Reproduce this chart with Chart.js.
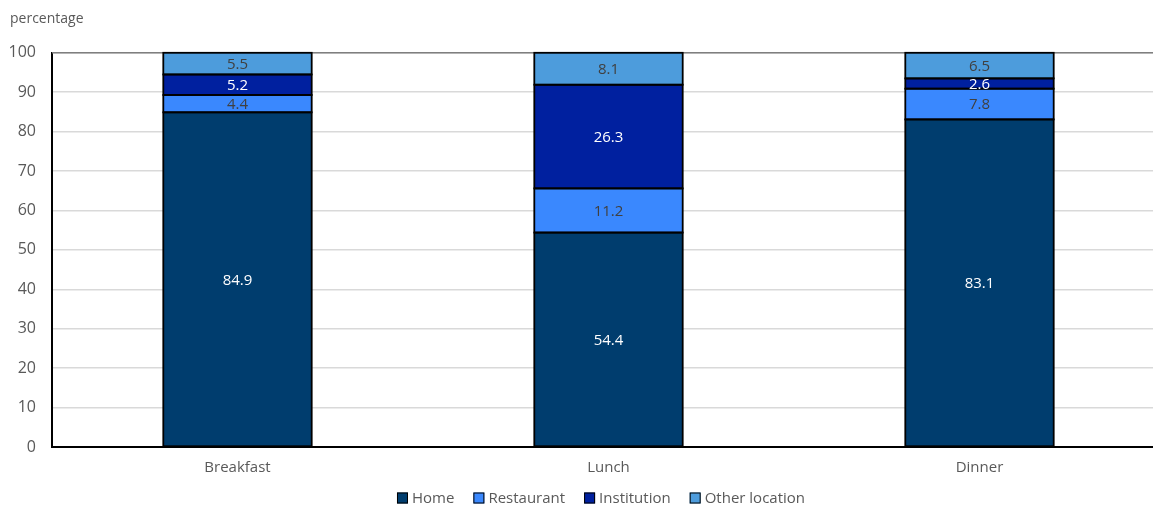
<!DOCTYPE html>
<html>
<head>
<meta charset="utf-8">
<script src="https://cdn.jsdelivr.net/npm/chart.js@4"></script>
<style>
  html, body { margin: 0; padding: 0; background: #fff; overflow: hidden; }
  #wrap { width: 1165px; height: 506px; }
</style>
</head>
<body>
<div id="wrap"><canvas id="c" width="1165" height="506"></canvas></div>
<script>
// Meal categories and share of each meal by eating location (percentage)
const meals = ['Breakfast', 'Lunch', 'Dinner'];
const home = [84.9, 54.4, 83.1];
const restaurant = [4.4, 11.2, 7.8];
const institution = [5.2, 26.3, 2.6];
const otherLocation = [5.5, 8.1, 6.5];
const yTicks = [0, 10, 20, 30, 40, 50, 60, 70, 80, 90, 100];

const FONT = "'Open Sans', 'Noto Sans', sans-serif";
const GREY_TEXT = '#595959';

function series(label, data, color, textColor) {
  return {
    label, data,
    backgroundColor: color,
    borderWidth: 0,
    barPercentage: 1,
    categoryPercentage: 0.4,
    valueColor: textColor
  };
}

// Black outline centred on each segment's edges, so neighbours share one line
const segmentOutlines = {
  id: 'segmentOutlines',
  afterDatasetsDraw(chart) {
    const ctx = chart.ctx;
    ctx.save();
    ctx.strokeStyle = '#000';
    ctx.lineWidth = 1.8;
    chart.data.datasets.forEach((ds, i) => {
      chart.getDatasetMeta(i).data.forEach(bar => {
        const left = bar.x - bar.width / 2;
        ctx.strokeRect(left, bar.y, bar.width, bar.base - bar.y);
      });
    });
    ctx.restore();
  }
};

// Writes each segment's value in the middle of its bar piece
const valueLabels = {
  id: 'valueLabels',
  afterDatasetsDraw(chart) {
    const ctx = chart.ctx;
    ctx.save();
    ctx.font = '15px ' + FONT;
    ctx.textAlign = 'center';
    ctx.textBaseline = 'middle';
    chart.data.datasets.forEach((ds, i) => {
      chart.getDatasetMeta(i).data.forEach((bar, j) => {
        ctx.fillStyle = ds.valueColor;
        ctx.fillText(ds.data[j].toFixed(1), bar.x, (bar.y + bar.base) / 2 + 1);
      });
    });
    ctx.restore();
  }
};

// Frame line along the top of the plot
const topLine = {
  id: 'topLine',
  beforeDatasetsDraw(chart) {
    const { ctx, chartArea } = chart;
    ctx.save();
    ctx.strokeStyle = '#7f7f7f';
    ctx.lineWidth = 1.5;
    ctx.beginPath();
    ctx.moveTo(chartArea.left, chartArea.top);
    ctx.lineTo(chartArea.right, chartArea.top);
    ctx.stroke();
    ctx.restore();
  }
};

// Single-row legend under the category labels
const bottomLegend = {
  id: 'bottomLegend',
  afterDraw(chart) {
    const ctx = chart.ctx;
    const box = 11, gapText = 4, gapItem = 19;
    const y = 498;
    ctx.save();
    ctx.font = '15px ' + FONT;
    ctx.textBaseline = 'middle';
    const items = chart.data.datasets.map(ds => ({
      label: ds.label, color: ds.backgroundColor,
      w: box + gapText + ctx.measureText(ds.label).width
    }));
    const total = items.reduce((s, it) => s + it.w, 0) + gapItem * (items.length - 1);
    let x = 601 - total / 2;
    items.forEach(it => {
      ctx.fillStyle = it.color;
      ctx.fillRect(x, y - box / 2, box, box);
      ctx.strokeStyle = '#000';
      ctx.lineWidth = 1;
      ctx.strokeRect(x + 0.5, y - box / 2 + 0.5, box - 1, box - 1);
      ctx.fillStyle = GREY_TEXT;
      ctx.fillText(it.label, x + box + gapText, y + 1);
      x += it.w + gapItem;
    });
    ctx.restore();
  }
};

new Chart(document.getElementById('c'), {
  type: 'bar',
  data: {
    labels: meals,
    datasets: [
      series('Home', home, '#003D6E', '#ffffff'),
      series('Restaurant', restaurant, '#3A88FE', '#404040'),
      series('Institution', institution, '#00209F', '#ffffff'),
      series('Other location', otherLocation, '#4D9CDC', '#404040')
    ]
  },
  options: {
    responsive: false,
    animation: false,
    layout: { padding: { left: 10, right: 0, top: 0, bottom: 19 } },
    scales: {
      x: {
        stacked: true,
        grid: { display: false, drawTicks: false },
        border: { display: true, color: '#000', width: 2 },
        ticks: { color: GREY_TEXT, font: { family: FONT, size: 15 }, padding: 12 },
        afterFit(axis) { axis.height = 40; }
      },
      y: {
        stacked: true,
        min: 0, max: 100,
        afterBuildTicks(axis) { axis.ticks = yTicks.map(v => ({ value: v })); },
        grid: { color: '#d9d9d9', lineWidth: 1.5, drawTicks: false },
        border: { display: true, color: '#000', width: 2 },
        ticks: { color: GREY_TEXT, font: { family: FONT, size: 16 }, padding: 16 },
        afterFit(axis) { axis.width = 42; }
      }
    },
    plugins: {
      title: {
        display: true,
        text: 'percentage',
        align: 'start',
        color: GREY_TEXT,
        font: { family: FONT, size: 14, weight: 'normal' },
        padding: { top: 11, bottom: 25 }
      },
      legend: { display: false },
      tooltip: { enabled: false }
    }
  },
  plugins: [topLine, segmentOutlines, valueLabels, bottomLegend]
});
</script>
</body>
</html>
